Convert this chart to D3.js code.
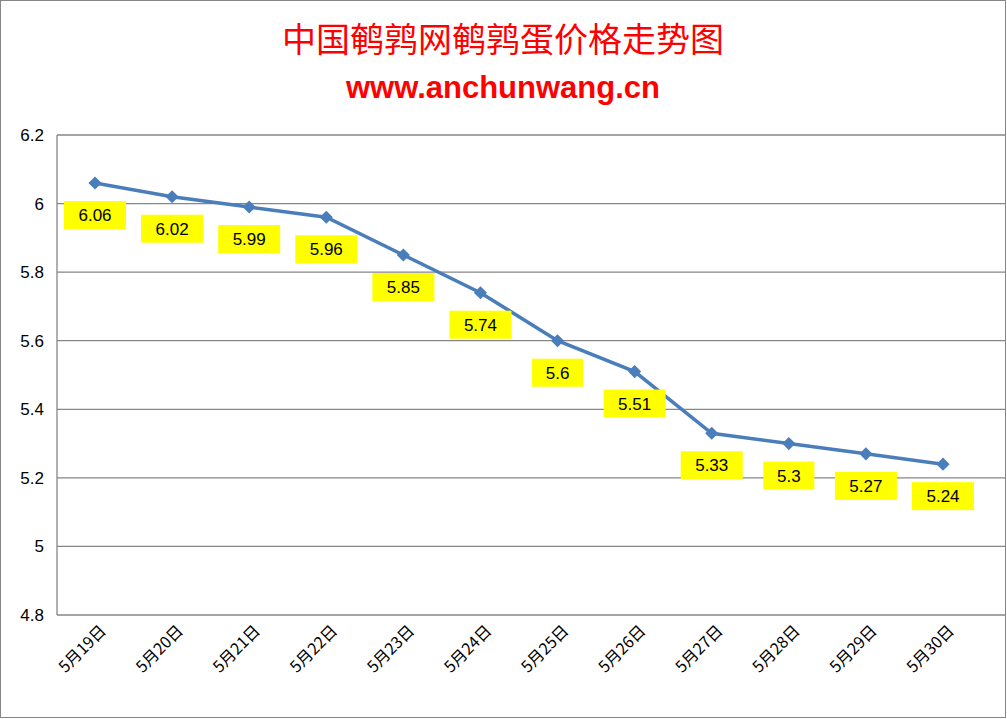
<!DOCTYPE html><html><head><meta charset="utf-8"><script src="https://cdn.jsdelivr.net/npm/d3@7"></script>
<style>body{margin:0;background:#fff}</style></head><body><svg id="c" width="1007" height="719"></svg>
<script>
const categories=["5月19日","5月20日","5月21日","5月22日","5月23日","5月24日","5月25日","5月26日","5月27日","5月28日","5月29日","5月30日"];
const values=[6.06,6.02,5.99,5.96,5.85,5.74,5.6,5.51,5.33,5.3,5.27,5.24];
const yTicks=[4.8,5,5.2,5.4,5.6,5.8,6,6.2];
const svg=d3.select("#c");
svg.append("rect").attr("x",0.5).attr("y",0.5).attr("width",1005).attr("height",717).attr("fill","#fff").attr("stroke","#868686");
const x=d3.scalePoint().domain(categories).range([95,943]);
const y=d3.scaleLinear().domain([4.8,6.2]).range([615,135]);
svg.append("g").selectAll("line").data(yTicks).join("line").attr("x1",57).attr("x2",1006).attr("y1",d=>y(d)).attr("y2",d=>y(d)).attr("stroke","#868686").attr("stroke-width",1.3);
svg.append("line").attr("x1",57).attr("x2",57).attr("y1",135).attr("y2",615).attr("stroke","#868686").attr("stroke-width",1.3);
svg.append("g").selectAll("text").data(yTicks).join("text").attr("x",44).attr("y",d=>y(d)+6).attr("text-anchor","end").attr("font-family","Liberation Sans, Arial").attr("font-size",17).text(d=>d);
svg.append("g").selectAll("text").data(categories).join("text").attr("transform",d=>`translate(${x(d)+12},${632}) rotate(-45)`).attr("text-anchor","end").attr("font-family","Noto Sans CJK SC").attr("font-size",16).text(d=>d);
svg.append("path").datum(values).attr("d",d3.line().x((d,i)=>x(categories[i])).y(d=>y(d))).attr("fill","none").attr("stroke","#4a7ebb").attr("stroke-width",3.5);
svg.append("g").selectAll("path").data(values).join("path").attr("transform",(d,i)=>`translate(${x(categories[i])},${y(d)})`).attr("d",d3.symbol(d3.symbolDiamond2,110)()).attr("fill","#4a7ebb");
const lg=svg.append("g").selectAll("g").data(values).join("g").attr("transform",(d,i)=>`translate(${x(categories[i])},${y(d)+32})`);
lg.append("rect").attr("x",d=>-(String(d).length*5.5+9)).attr("y",-14).attr("width",d=>String(d).length*11+18).attr("height",28).attr("fill","#ffff00");
lg.append("text").attr("text-anchor","middle").attr("y",6).attr("font-family","Liberation Sans, Arial").attr("font-size",17).text(d=>d);
svg.append("text").attr("x",503).attr("y",52).attr("text-anchor","middle").attr("fill","#ff0000").attr("font-family","Noto Sans CJK SC").attr("font-size",34).text("中国鹌鹑网鹌鹑蛋价格走势图");
svg.append("text").attr("x",503).attr("y",98).attr("text-anchor","middle").attr("fill","#ff0000").attr("font-weight","bold").attr("font-family","Liberation Sans, Arial").attr("font-size",31).text("www.anchunwang.cn");
</script></body></html>
